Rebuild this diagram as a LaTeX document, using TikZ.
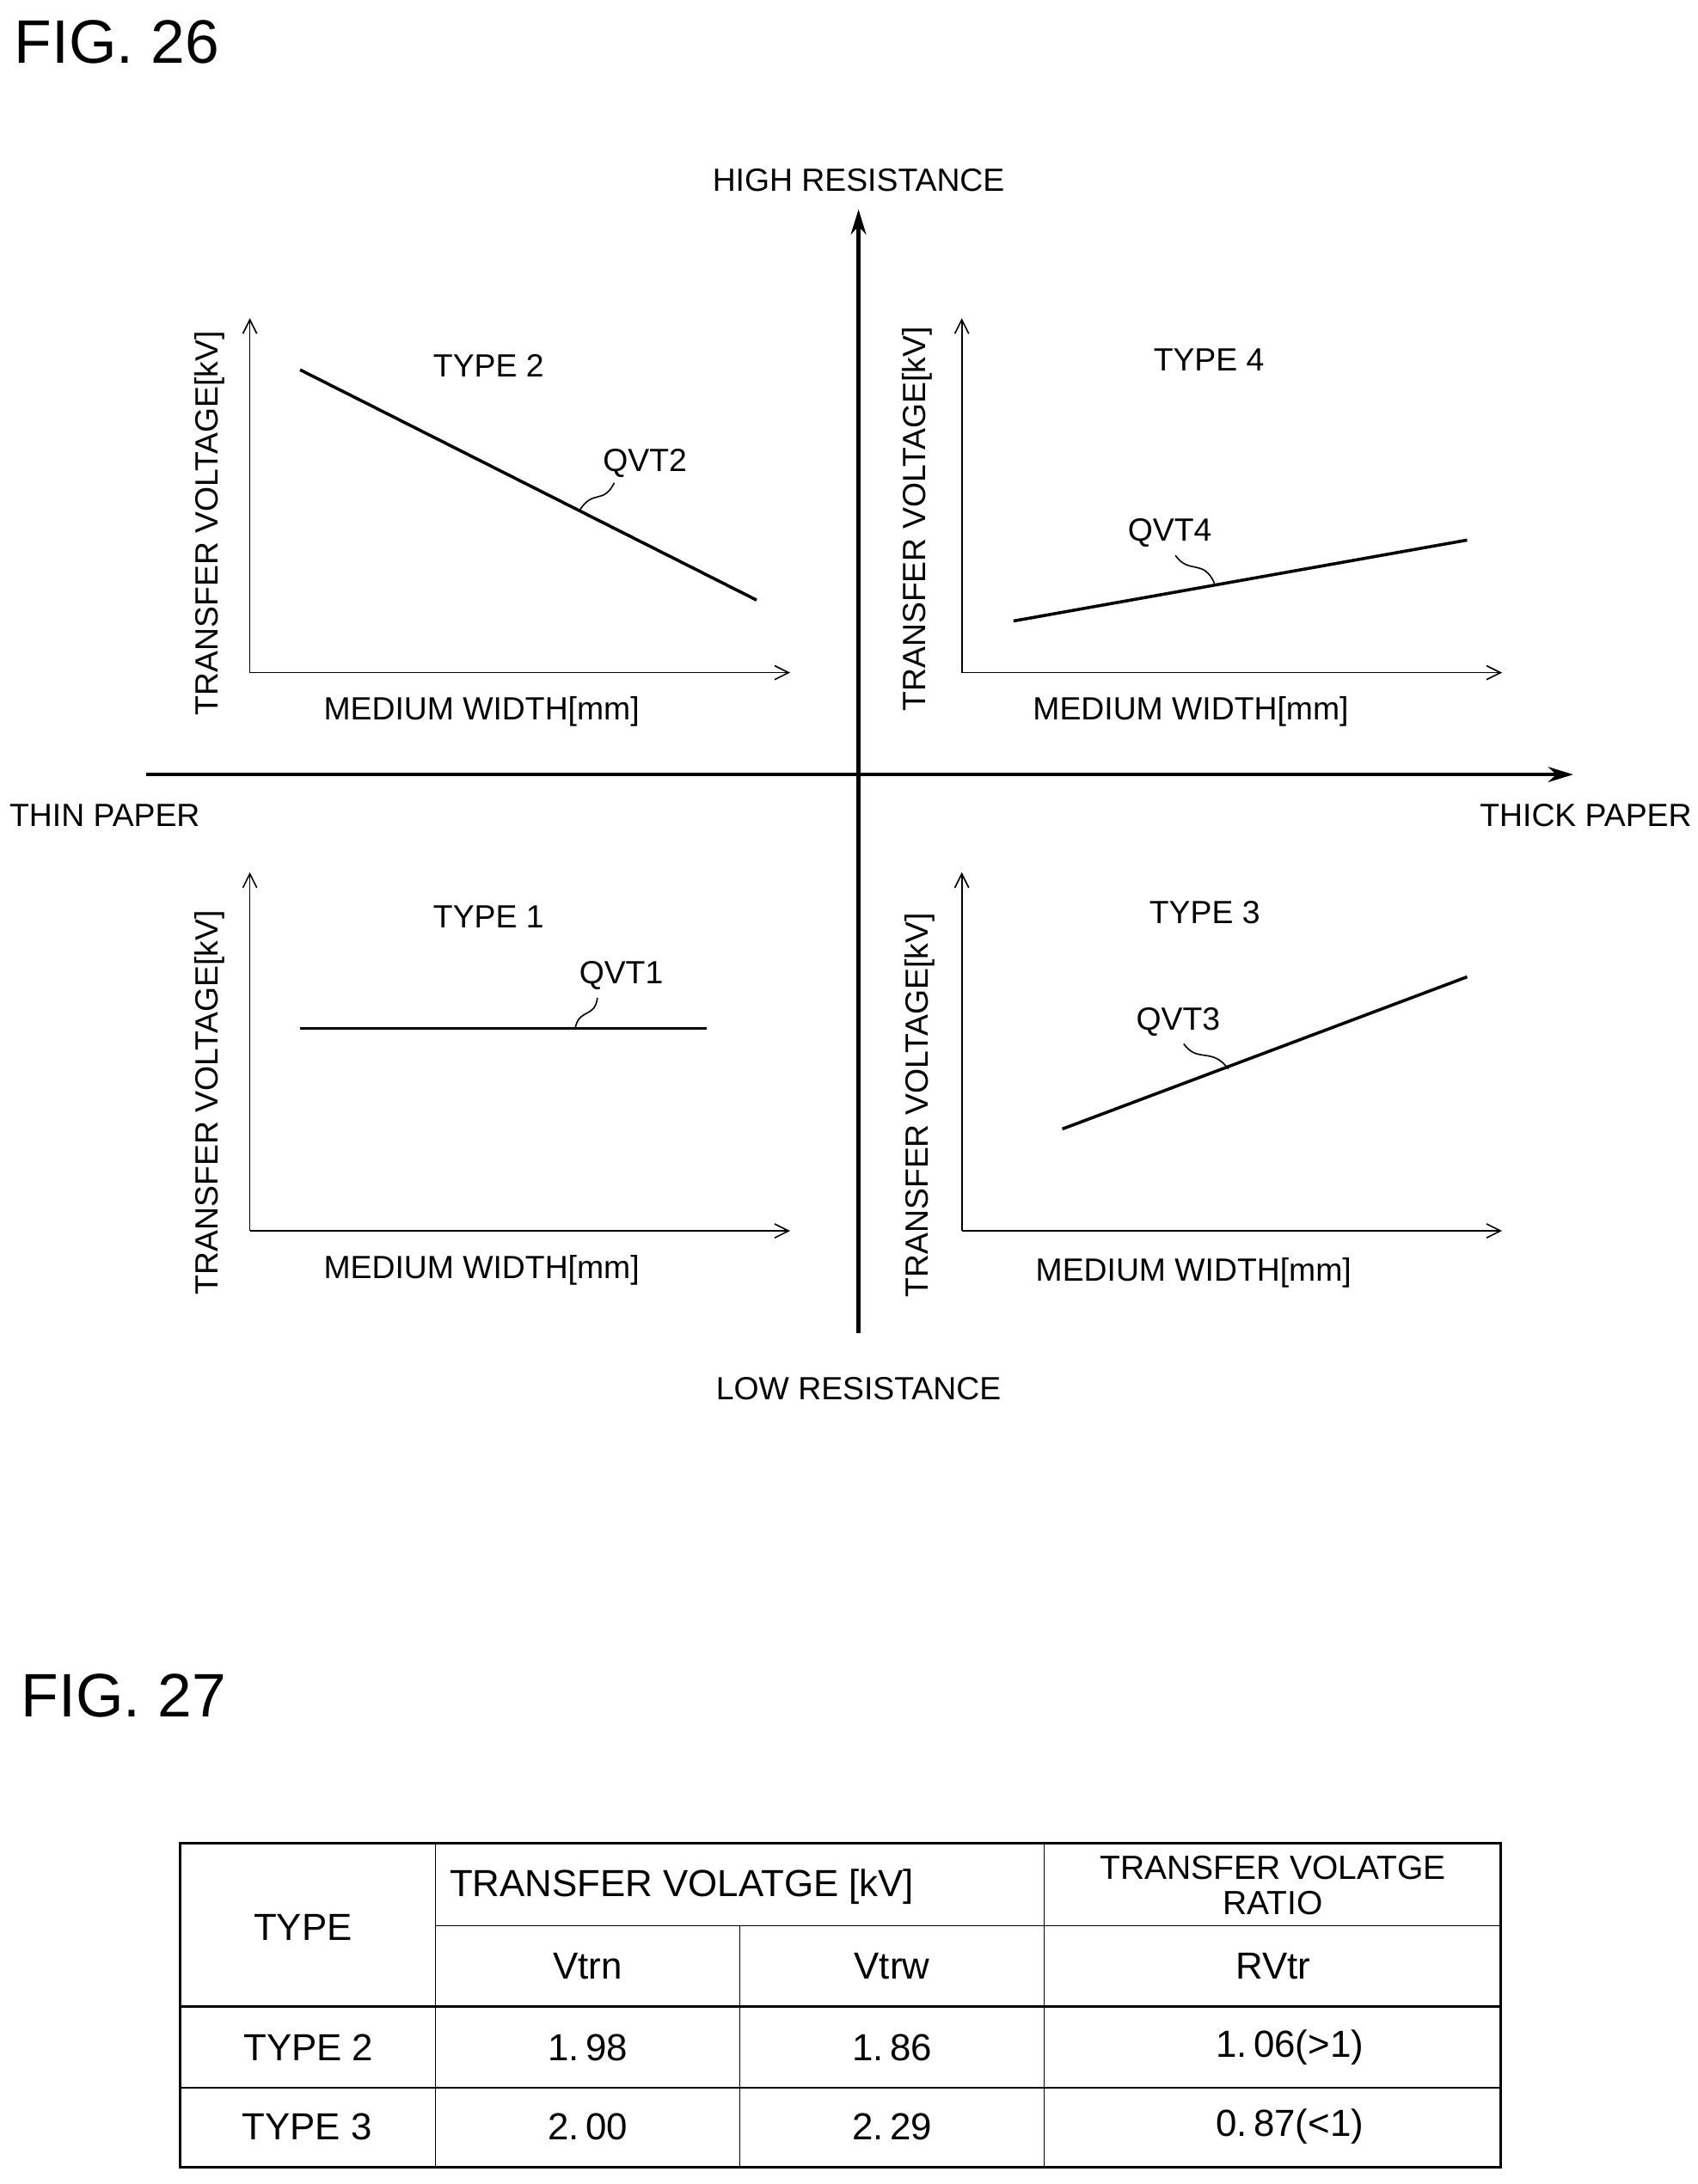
\documentclass[tikz,border=0pt]{standalone}
\usepackage{fontspec}
\setmainfont{Liberation Sans}
\usetikzlibrary{arrows.meta}
\begin{document}
\begin{tikzpicture}[x=1pt,y=-1pt,
 lbl/.style={font=\fontsize{23}{26}\selectfont,inner sep=0},
 tb/.style={font=\fontsize{27}{29}\selectfont,inner sep=0,align=center},
 ax/.style={line width=1pt,-{Straight Barb[length=10pt,width=10pt]}},
 big/.style={line width=2.6pt,-{Stealth[length=18pt,width=11pt]}},
 curve/.style={line width=2.2pt},
 lead/.style={line width=1pt}]
\useasboundingbox (0,0) rectangle (1216,1565);
\node[anchor=west,font=\fontsize{44}{48}\selectfont,inner sep=0] (f26) at (10,30) {FIG. 26};
\node[anchor=west,font=\fontsize{44}{48}\selectfont,inner sep=0] (f27) at (15,1215) {FIG. 27};
% main axes
\coordinate (vb) at (615,955); \coordinate (vt) at (615,150);
\coordinate (hl) at (105,555); \coordinate (hr) at (1127,555);
\draw[big] (vb) -- (vt);
\draw[big] (hl) -- (hr);
\node[lbl] (hi) at (615,129) {HIGH RESISTANCE};
\node[lbl] (lo) at (615,995) {LOW RESISTANCE};
\node[lbl] (thin) at (75,584) {THIN PAPER};
\node[lbl] (thick) at (1136,584) {THICK PAPER};
% quadrants
\foreach \ox/\oy/\top/\nm in {179/482/228/a,689/482/228/b,179/882/625/c,689/882/625/d}{
  \coordinate (o\nm) at (\ox,\oy);
  \coordinate (t\nm) at (\ox,\top);
  \coordinate (r\nm) at (\ox+387,\oy);
  \draw[ax] (o\nm) -- (t\nm);
  \draw[ax] (o\nm) -- (r\nm);
}
\node[lbl,rotate=90] (ya) at (150,375) {TRANSFER VOLTAGE[kV]};
\node[lbl,rotate=90] (yb) at (657,372) {TRANSFER VOLTAGE[kV]};
\node[lbl,rotate=90] (yc) at (150,790) {TRANSFER VOLTAGE[kV]};
\node[lbl,rotate=90] (yd) at (659,792) {TRANSFER VOLTAGE[kV]};
\node[lbl] (xa) at (345,510) {MEDIUM WIDTH[mm]};
\node[lbl] (xb) at (853,510) {MEDIUM WIDTH[mm]};
\node[lbl] (xc) at (345,910) {MEDIUM WIDTH[mm]};
\node[lbl] (xd) at (855,912) {MEDIUM WIDTH[mm]};
\node[lbl] (ty2) at (350,262) {TYPE 2};
\node[lbl] (ty4) at (866,258) {TYPE 4};
\node[lbl] (ty1) at (350,657) {TYPE 1};
\node[lbl] (ty3) at (863,654) {TYPE 3};
\coordinate (p2a) at (215,265); \coordinate (p2b) at (542,430);
\coordinate (p4a) at (726,445); \coordinate (p4b) at (1051,387);
\coordinate (p1a) at (215,737); \coordinate (p1b) at (506,737);
\coordinate (p3a) at (761,809); \coordinate (p3b) at (1051,700);
\draw[curve] (p2a) -- (p2b);
\draw[curve] (p4a) -- (p4b);
\draw[curve] (p1a) -- (p1b);
\draw[curve] (p3a) -- (p3b);
\node[lbl] (q2) at (462,332) {QVT2};
\node[lbl] (q4) at (838,382) {QVT4};
\node[lbl] (q1) at (445,699) {QVT1};
\node[lbl] (q3) at (844,732) {QVT3};
\coordinate (l2a) at (415,366); \coordinate (l2b) at (440,346);
\coordinate (l4a) at (870,418); \coordinate (l4b) at (842,398);
\coordinate (l1a) at (412,737); \coordinate (l1b) at (428,715);
\coordinate (l3a) at (880,766); \coordinate (l3b) at (848,748);
\draw[lead] (l2a) .. controls (425,350) and (432,362) .. (l2b);
\draw[lead] (l4a) .. controls (862,400) and (852,412) .. (l4b);
\draw[lead] (l1a) .. controls (415,722) and (426,730) .. (l1b);
\draw[lead] (l3a) .. controls (868,750) and (858,762) .. (l3b);
% table
\draw[line width=2pt] (129,1321) rectangle (1075,1553);
\draw[line width=1pt] (312,1380) -- (1075,1380);
\draw[line width=2pt] (129,1438) -- (1075,1438);
\draw[line width=1pt] (129,1496) -- (1075,1496);
\draw[line width=1pt] (312,1321) -- (312,1553);
\draw[line width=1pt] (530,1380) -- (530,1553);
\draw[line width=1pt] (748,1321) -- (748,1553);
\node[tb] (ht) at (217,1381) {TYPE};
\node[tb,anchor=west] (hv) at (322,1352) {TRANSFER VOLATGE [kV]};
\node[tb,font=\fontsize{24}{25}\selectfont] (hr) at (912,1351) {TRANSFER VOLATGE\\RATIO};
\node[tb] (c1) at (421,1409) {Vtrn};
\node[tb] (c2) at (639,1409) {Vtrw};
\node[tb] (c3) at (912,1409) {RVtr};
\node[tb] (r1) at (221,1467) {TYPE 2};
\node[tb] (r1a) at (421,1467) {1.\,98};
\node[tb] (r1b) at (639,1467) {1.\,86};
\node[tb] (r1c) at (924,1467) {1.\,06(>1)};
\node[tb] (r2) at (220,1524) {TYPE 3};
\node[tb] (r2a) at (421,1524) {2.\,00};
\node[tb] (r2b) at (639,1524) {2.\,29};
\node[tb] (r2c) at (924,1524) {0.\,87(<1)};
\end{tikzpicture}
\end{document}
